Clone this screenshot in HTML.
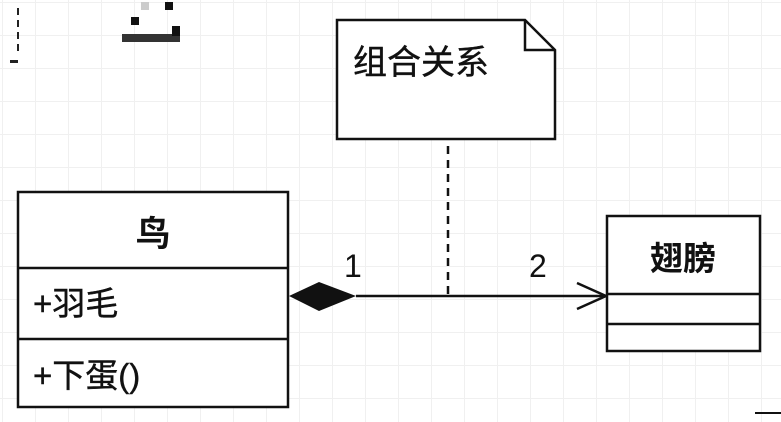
<!DOCTYPE html>
<html><head><meta charset="utf-8"><style>
html,body{margin:0;padding:0;background:#fff;}
body{width:781px;height:422px;overflow:hidden;position:relative;
background-image:linear-gradient(#f0f0f0 1px,transparent 1px),linear-gradient(90deg,#f0f0f0 1px,transparent 1px);
background-size:33px 33px;background-position:2px 2px;}
svg{position:absolute;left:0;top:0;}
text{font-family:"Liberation Sans","Noto Sans CJK SC",sans-serif;fill:#111;}
</style></head><body>
<svg width="781" height="422" viewBox="0 0 781 422">
<line x1="18" y1="8" x2="18" y2="55" stroke="#222" stroke-width="2" stroke-dasharray="7,5"/>
<rect x="10" y="60" width="8" height="3" fill="#222"/>
<rect x="131" y="17" width="8" height="8" fill="#111"/>
<rect x="165" y="2" width="8" height="8" fill="#111"/>
<rect x="141" y="2" width="8" height="8" fill="#ccc"/>
<rect x="122" y="34" width="58" height="8" fill="#333"/>
<rect x="172" y="26" width="8" height="10" fill="#111"/>
<path d="M337 20 H525 L555 50 V139 H337 Z" fill="#fff" stroke="#111" stroke-width="2.5"/>
<path d="M525 20 V50 H555" fill="none" stroke="#111" stroke-width="2.5"/>
<text x="353" y="74" font-size="34" stroke="#111" stroke-width="0.4">组合关系</text>
<line x1="448" y1="146" x2="448" y2="296" stroke="#111" stroke-width="2.5" stroke-dasharray="8,6"/>
<rect x="18" y="192" width="270" height="215" fill="#fff" stroke="#111" stroke-width="2.5"/>
<line x1="18" y1="268" x2="288" y2="268" stroke="#111" stroke-width="2.5"/>
<line x1="18" y1="339" x2="288" y2="339" stroke="#111" stroke-width="2.5"/>
<text x="153" y="246" font-size="35" font-weight="bold" text-anchor="middle">鸟</text>
<text x="33" y="315" font-size="33" stroke="#111" stroke-width="0.4">+羽毛</text>
<text x="33" y="387" font-size="33" stroke="#111" stroke-width="0.4">+下蛋()</text>
<line x1="356" y1="296" x2="606" y2="296" stroke="#111" stroke-width="2.5"/>
<polygon points="289,296 319,282 356,296 319,311" fill="#111"/>
<polyline points="577,283 606,296 577,309" fill="none" stroke="#111" stroke-width="2.5"/>
<text x="344" y="277" font-size="32">1</text>
<text x="529" y="277" font-size="32">2</text>
<rect x="607" y="216" width="153" height="135" fill="#fff" stroke="#111" stroke-width="2.5"/>
<line x1="607" y1="294" x2="760" y2="294" stroke="#111" stroke-width="2.5"/>
<line x1="607" y1="324" x2="760" y2="324" stroke="#111" stroke-width="2.5"/>
<text x="683" y="270" font-size="33" font-weight="bold" text-anchor="middle">翅膀</text>
<line x1="755" y1="413" x2="781" y2="413" stroke="#111" stroke-width="2"/>
</svg>
</body></html>
